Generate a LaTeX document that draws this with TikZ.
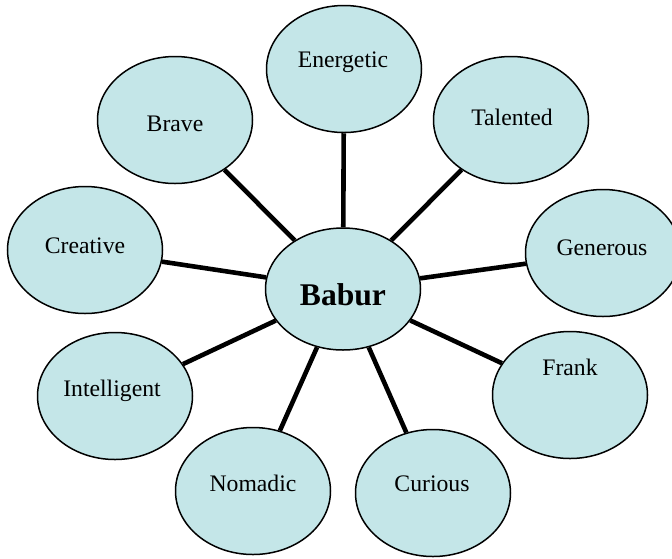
\documentclass[tikz,border=0pt]{standalone}
\usepackage{fontspec}
\setmainfont{Liberation Serif}
\usetikzlibrary{shapes.geometric}
\definecolor{traitfill}{RGB}{196,230,232}
\tikzset{
  trait/.style={ellipse,draw=black,line width=1.5pt,fill=traitfill,
    minimum width=155pt,minimum height=127pt,inner sep=0pt},
  traittext/.style={anchor=base,inner sep=0pt,font=\fontsize{23.7}{28}\selectfont},
  spoke/.style={line width=4.6pt}
}

\begin{document}
\begin{tikzpicture}[x=1pt,y=-1pt]
    \useasboundingbox (0,0) rectangle (672,558);
    \node[trait,minimum height=122pt] (babur) at (343,289) {};
    \node[anchor=base,inner sep=0pt,font=\fontsize{31.6}{36}\selectfont\bfseries] (babur-text) at (343,305) {Babur};
    \foreach \nm/\x/\y/\tx/\ty/\txt in {energetic/344/69/343/67/Energetic,
        brave/175/120/175/131/Brave,
        talented/511/120/512/125/Talented,
        creative/85/250/85/253/Creative,
        generous/603/253/602/255/Generous,
        intelligent/115/396/112/396/Intelligent,
        frank/570/395/570/375/Frank,
        nomadic/253/491/253/491/Nomadic,
        curious/433/493/432/491/Curious}
    {
        \node[trait] (\nm) at (\x,\y) {};
        \node[traittext] (\nm-text) at (\tx,\ty) {\txt};
        \draw[spoke] (babur) -- (\nm);
    }
\end{tikzpicture}
\end{document}
